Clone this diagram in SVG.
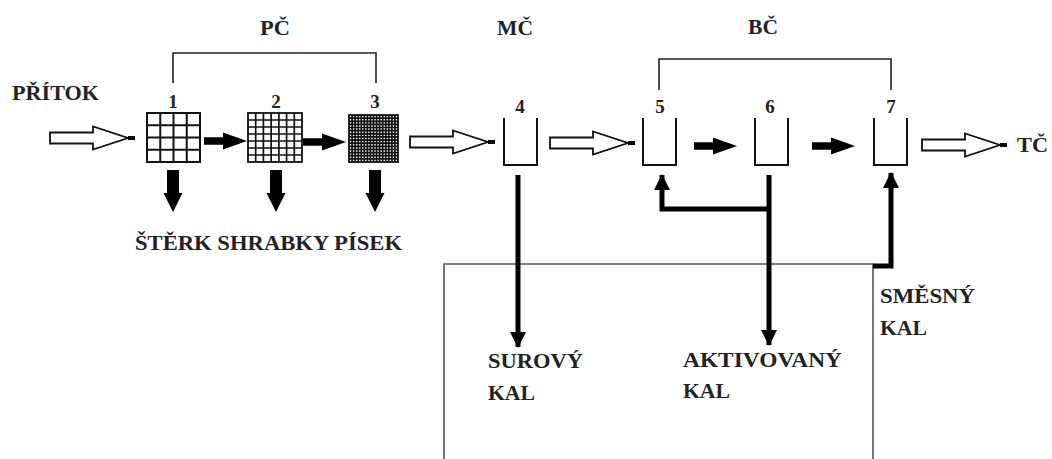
<svg xmlns="http://www.w3.org/2000/svg" width="1052" height="459" viewBox="0 0 1052 459">
<defs>
<style>
.t{font-family:"Liberation Serif","Times New Roman",serif;font-weight:bold;fill:#222;font-size:20px}
.n{font-family:"Liberation Serif","Times New Roman",serif;font-weight:bold;fill:#222;font-size:19px;text-anchor:middle}
.br{fill:none;stroke:#222;stroke-width:1.6}
.tank{fill:none;stroke:#111;stroke-width:2}
.grid{fill:#fff;stroke:#111}
.thick{fill:none;stroke:#000;stroke-width:5}
.box{fill:none;stroke:#555;stroke-width:1.6}
</style>
<g id="hollow">
<path d="M0,-5.5 H43 V-11.5 L78,0 L43,11.5 V5.5 H0 Z" fill="#fff" stroke="#111" stroke-width="1.8"/>
<rect x="78" y="-2" width="7" height="4" fill="#000"/>
</g>
<path id="blk" d="M0,-3.8 H19 V-8.5 L43,0 L19,8.5 V3.8 H0 Z" fill="#000"/>
<path id="down" d="M-6,0 H6 V23 H9.5 L0,42 L-9.5,23 H-6 Z" fill="#000"/>
<marker id="ah" markerUnits="userSpaceOnUse" markerWidth="16" markerHeight="16" viewBox="0 0 16 16" refX="15" refY="8" orient="auto">
<path d="M0,0 L16,8 L0,16 Z" fill="#000"/>
</marker>
</defs>
<rect width="1052" height="459" fill="#fff"/>

<g id="labels">
<text class="t" x="12" y="100" textLength="87" lengthAdjust="spacingAndGlyphs">PŘÍTOK</text>
<text class="t" x="260" y="35" textLength="30" lengthAdjust="spacingAndGlyphs">PČ</text>
<text class="t" x="497" y="35" textLength="36" lengthAdjust="spacingAndGlyphs">MČ</text>
<text class="t" x="748" y="34" textLength="30" lengthAdjust="spacingAndGlyphs">BČ</text>
<text class="t" x="1017" y="152" textLength="31" lengthAdjust="spacingAndGlyphs">TČ</text>
<text class="t" x="135" y="250" textLength="267" lengthAdjust="spacingAndGlyphs">ŠTĚRK SHRABKY PÍSEK</text>
</g>

<g id="brackets">
<path class="br" d="M173,83 V53 H376 V83"/>
<path class="br" d="M659,90 V59 H891 V90"/>
</g>

<g id="node1">
<text class="n" x="173" y="108">1</text>
<rect class="grid" x="147" y="113" width="53" height="49" stroke-width="2"/>
<path d="M160.25,113V162M173.5,113V162M186.75,113V162M147,125.25H200M147,137.5H200M147,149.75H200" stroke="#111" stroke-width="2"/>
</g>
<g id="node2">
<text class="n" x="276" y="108">2</text>
<rect class="grid" x="248" y="113" width="54" height="49" stroke-width="1.8"/>
<path d="M255.7,113V162M263.4,113V162M271.1,113V162M278.9,113V162M286.6,113V162M294.3,113V162M248,120H302M248,127H302M248,134H302M248,141H302M248,148H302M248,155H302" stroke="#111" stroke-width="1.7"/>
</g>
<g id="node3">
<text class="n" x="375" y="108">3</text>
<rect x="349" y="115" width="49" height="47" fill="#fff" stroke="#111" stroke-width="1.8"/>
<path d="M352.1,115V162M355.1,115V162M358.2,115V162M361.3,115V162M364.3,115V162M367.4,115V162M370.4,115V162M373.5,115V162M376.6,115V162M379.6,115V162M382.7,115V162M385.8,115V162M388.8,115V162M391.9,115V162M394.9,115V162M349,118.1H398M349,121.3H398M349,124.4H398M349,127.5H398M349,130.7H398M349,133.8H398M349,136.9H398M349,140.1H398M349,143.2H398M349,146.3H398M349,149.5H398M349,152.6H398M349,155.7H398M349,158.9H398" stroke="#111" stroke-width="1.7"/>
</g>
<g id="node4">
<text class="n" x="520" y="113">4</text>
<path class="tank" d="M504,118 V165 H537 V118"/>
</g>
<g id="node5">
<text class="n" x="660" y="113">5</text>
<path class="tank" d="M643,118 V165 H676 V118"/>
</g>
<g id="node6">
<text class="n" x="770" y="113">6</text>
<path class="tank" d="M755,118 V165 H788 V118"/>
</g>
<g id="node7">
<text class="n" x="891" y="113">7</text>
<path class="tank" d="M874,118 V165 H907 V118"/>
</g>

<g id="sludge-box">
<path class="box" d="M444,460 V264 H873 V460"/>
<text class="t" x="488" y="368" textLength="95" lengthAdjust="spacingAndGlyphs">SUROVÝ</text>
<text class="t" x="488" y="400" textLength="47" lengthAdjust="spacingAndGlyphs">KAL</text>
<text class="t" x="683" y="367" textLength="159" lengthAdjust="spacingAndGlyphs">AKTIVOVANÝ</text>
<text class="t" x="683" y="398" textLength="47" lengthAdjust="spacingAndGlyphs">KAL</text>
<text class="t" x="880" y="303" textLength="95" lengthAdjust="spacingAndGlyphs">SMĚSNÝ</text>
<text class="t" x="880" y="335" textLength="47" lengthAdjust="spacingAndGlyphs">KAL</text>
</g>

<g id="connectors">
<use href="#hollow" x="50" y="138"/>
<use href="#hollow" x="410" y="142"/>
<use href="#hollow" x="550" y="143"/>
<use href="#hollow" x="922" y="145"/>
<use href="#blk" x="204" y="141"/>
<use href="#blk" x="303" y="142"/>
<use href="#blk" x="694" y="146"/>
<use href="#blk" x="812" y="146"/>
<use href="#down" x="173" y="170"/>
<use href="#down" x="276" y="170"/>
<use href="#down" x="375" y="170"/>
<path class="thick" d="M518,175 V347" marker-end="url(#ah)"/>
<path class="thick" d="M769,175 V345" marker-end="url(#ah)"/>
<path class="thick" d="M769,209 H662 V175" marker-end="url(#ah)"/>
<path class="thick" d="M873,266 H891 V173" marker-end="url(#ah)"/>
</g>
</svg>
